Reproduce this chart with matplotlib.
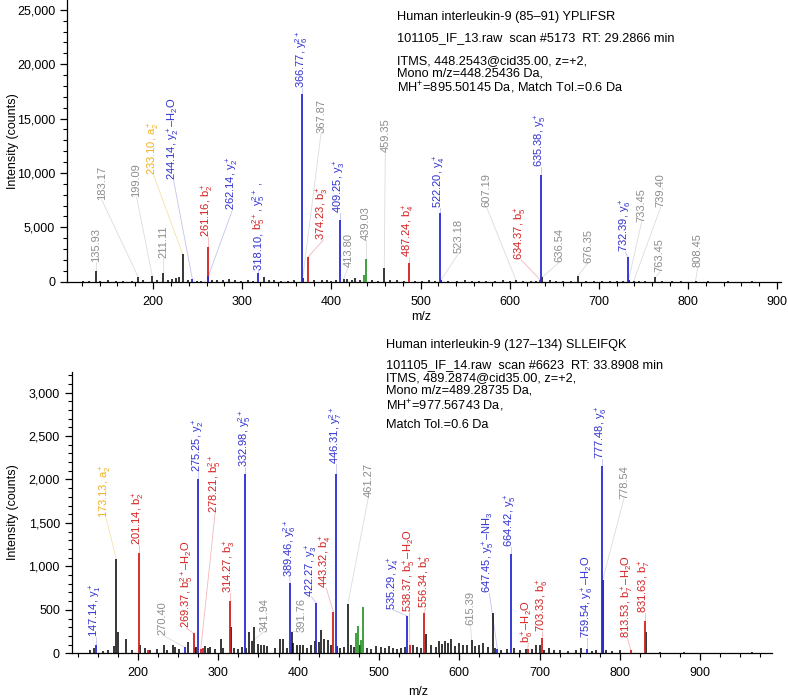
import matplotlib
matplotlib.use("Agg")
import matplotlib.pyplot as plt
from matplotlib.ticker import MultipleLocator, FuncFormatter

plt.rcParams['font.family'] = ['Liberation Sans', 'DejaVu Sans']
plt.rcParams['mathtext.fontset'] = 'custom'
plt.rcParams['mathtext.rm'] = 'Liberation Sans'
plt.rcParams['mathtext.it'] = 'Liberation Sans'
plt.rcParams['mathtext.default'] = 'regular'

# ---------------------------------------------------------------------------
# data: panel A (YPLIFSR)
# ---------------------------------------------------------------------------
top_black_mz = [121.0, 128.5, 135.93, 141.0, 149.0, 158.0, 166.0, 176.0, 183.17, 189.0,
                199.09, 205.0, 211.11, 216.5, 221.0, 225.5, 229.5, 233.10, 239.0, 249.0,
                254.0, 266.0, 272.0, 279.0, 285.0, 292.0, 299.0, 306.0, 312.0, 325.0,
                330.0, 336.0, 344.0, 351.0, 358.0, 367.87, 381.0, 389.0, 395.0, 400.0,
                405.0, 413.80, 418.0, 423.0, 427.0, 432.0, 446.0, 452.0, 459.35, 466.0,
                474.0, 481.0, 494.0, 502.0, 510.0, 516.0, 523.18, 531.0, 541.0, 550.0,
                558.0, 566.0, 574.0, 583.0, 592.0, 600.0, 607.19, 615.0, 624.0, 630.0,
                636.54, 645.0, 652.0, 660.0, 669.0, 676.35, 686.0, 695.0, 704.0, 712.0,
                720.0, 727.0, 733.45, 739.40, 745.0, 752.0, 763.45, 771.0, 782.0, 792.0,
                808.45, 823.0, 845.0, 872.0]
top_black_h = [60, 90, 1010, 80, 120, 70, 110, 90, 460, 150,
               560, 120, 830, 200, 260, 380, 420, 2560, 150, 110,
               90, 130, 160, 140, 220, 120, 90, 150, 100, 450,
               170, 120, 90, 110, 140, 300, 180, 130, 160, 110,
               200, 260, 220, 180, 300, 150, 140, 110, 1290, 130,
               120, 100, 110, 90, 150, 100, 180, 90, 80, 130,
               90, 110, 100, 80, 140, 90, 120, 80, 100, 70,
               420, 120, 80, 100, 70, 520, 80, 90, 60, 70,
               80, 90, 180, 110, 80, 90, 400, 60, 70, 50,
               60, 40, 40, 30]

top_ion_mz = [244.14, 261.16, 262.14, 318.10, 366.77, 374.23, 409.25, 487.24,
              522.20, 634.37, 635.38, 732.39]
top_ion_h = [220, 3230, 520, 770, 17250, 2300, 5680, 1720,
             6300, 150, 9820, 2300]
top_ion_kind = ['y', 'b', 'y', 'y', 'y', 'b', 'y', 'b',
                'y', 'b', 'y', 'y']

top_green_mz = [436.8, 439.03]
top_green_h = [600, 2060]

# label text, colour key, peak m/z, label anchor (m/z, counts)
top_labels = [
    ("135.93", 'g', 135.93, 135.93, 1840),
    ("183.17", 'g', 183.17, 142.5, 7525),
    ("199.09", 'g', 199.09, 181.5, 7800),
    ("211.11", 'g', 211.11, 211.11, 2180),
    ("233.10, $a_2^+$", 'a', 233.10, 200.5, 9830),
    ("244.14, $y_2^+$–$H_2O$", 'y', 244.14, 223.0, 9370),
    ("261.16, $b_2^+$", 'b', 261.16, 261.16, 4145),
    ("262.14, $y_2^+$", 'y', 262.14, 289.0, 6600),
    ([("318.10, ", 'y'), ("$b_5^{2+}$", 'b'), (", $y_5^{2+}$ ,", 'y')], None, 318.10, 318.5, 1080),
    ("366.77, $y_6^{2+}$", 'y', 366.77, 366.77, 17840),
    ("367.87", 'g', 367.87, 388.5, 13700),
    ("374.23, $b_3^+$", 'b', 374.23, 391.0, 3840),
    ("409.25, $y_3^+$", 'y', 409.25, 409.25, 6330),
    ("413.80", 'g', 413.80, 419.0, 1350),
    ("439.03", 'g', 439.03, 439.03, 3840),
    ("459.35", 'g', 459.35, 460.5, 11945),
    ("487.24, $b_4^+$", 'b', 487.24, 487.24, 2275),
    ("522.20, $y_4^+$", 'y', 522.20, 522.20, 6790),
    ("523.18", 'g', 523.18, 543.0, 2640),
    ("607.19", 'g', 607.19, 574.0, 6880),
    ("634.37, $b_5^+$", 'b', 634.37, 613.0, 2000),
    ("635.38, $y_5^+$", 'y', 635.38, 635.38, 10565),
    ("636.54", 'g', 636.54, 656.0, 1815),
    ("676.35", 'g', 676.35, 688.0, 1720),
    ("732.39, $y_6^+$", 'y', 732.39, 730.0, 2735),
    ("733.45", 'g', 733.45, 748.0, 5500),
    ("739.40", 'g', 739.40, 769.5, 6880),
    ("763.45", 'g', 763.45, 768.5, 895),
    ("808.45", 'g', 808.45, 811.0, 1350),
]

top_title = "Human interleukin-9 (85–91) YPLIFSR"
top_scan = "101105_IF_13.raw  scan #5173  RT: 29.2866 min"
top_info = ["ITMS, 448.2543@cid35.00, z=+2,",
            "Mono m/z=448.25436 Da,",
            "$MH^{+}$=895.50145 Da, Match Tol.=0.6 Da"]

# ---------------------------------------------------------------------------
# data: panel B (SLLEIFQK)
# ---------------------------------------------------------------------------
bot_black_mz = [140.0, 145.0, 156.0, 163.0, 170.0, 173.13, 175.5, 185.0, 192.0, 203.0,
                209.0, 215.0, 224.0, 232.0, 236.0, 243.0, 246.0, 251.0, 262.0, 270.40,
                272.0, 284.0, 287.0, 290.0, 296.0, 303.0, 306.0, 316.3, 320.0, 325.0,
                329.0, 335.0, 338.0, 341.94, 344.0, 350.0, 353.0, 357.0, 361.0, 370.0,
                377.0, 380.0, 385.0, 391.76, 393.0, 398.0, 402.0, 405.0, 410.0, 415.0,
                420.0, 425.0, 428.0, 432.0, 437.0, 440.0, 448.0, 452.0, 456.0, 461.27,
                465.0, 469.0, 476.0, 485.0, 490.0, 496.0, 503.0, 507.0, 512.0, 518.0,
                523.0, 528.0, 532.0, 542.0, 547.0, 552.0, 558.3, 565.0, 571.0, 575.0,
                578.0, 582.0, 586.0, 590.0, 595.0, 600.0, 605.0, 610.0, 615.39, 620.0,
                625.0, 630.0, 636.0, 641.5, 645.0, 652.0, 660.0, 668.0, 676.0, 683.0,
                690.0, 695.0, 700.0, 705.0, 712.0, 718.0, 725.0, 735.0, 745.0, 752.0,
                765.0, 770.0, 778.54, 783.0, 790.0, 800.0, 832.6, 850.0, 880.0, 965.0]
bot_black_h = [40, 60, 30, 40, 80, 1080, 250, 170, 40, 100,
               60, 40, 50, 90, 40, 100, 70, 50, 130, 60,
               70, 80, 60, 70, 50, 170, 60, 300, 60, 50,
               70, 60, 250, 140, 300, 110, 90, 100, 80, 60,
               170, 170, 60, 250, 120, 90, 100, 100, 60, 90,
               140, 130, 270, 160, 150, 100, 80, 60, 70, 566,
               100, 70, 90, 60, 50, 80, 70, 60, 80, 60,
               50, 60, 70, 90, 70, 60, 220, 100, 70, 140,
               110, 140, 120, 170, 80, 120, 90, 100, 153, 80,
               100, 120, 70, 460, 60, 40, 50, 60, 40, 50,
               50, 100, 100, 40, 60, 40, 40, 30, 40, 60,
               30, 40, 842, 40, 30, 40, 250, 20, 20, 20]

bot_ion_mz = [147.14, 201.14, 212.0, 258.2, 269.37, 275.25, 278.21, 281.0, 314.27, 332.98,
              389.46, 422.27, 443.32, 446.31, 535.29, 538.37, 556.34, 647.45, 664.42,
              685.3, 703.33, 759.54, 777.48, 813.53, 831.63]
bot_ion_h = [100, 1150, 40, 70, 230, 2010, 50, 60, 605, 2060,
             804, 575, 478, 2060, 429, 100, 466, 50, 1141,
             50, 172, 46, 2152, 40, 375]
bot_ion_kind = ['y', 'b', 'b', 'y', 'b', 'y', 'b', 'b', 'b', 'y',
                'y', 'y', 'b', 'y', 'y', 'b', 'b', 'y', 'y',
                'b', 'b', 'y', 'y', 'b', 'b']

bot_green_mz = [471.5, 473.5, 477.5, 480.5]
bot_green_h = [230, 314, 150, 528]

bot_labels = [
    ("147.14, $y_1^+$", 'y', 147.14, 147.14, 190),
    ("173.13, $a_2^+$", 'a', 173.13, 160.5, 1551),
    ("201.14, $b_2^+$", 'b', 201.14, 201.14, 1244),
    ("270.40", 'g', 258.2, 230.5, 210),
    ("269.37, $b_5^{2+}$–$H_2O$", 'b', 269.37, 260.5, 287),
    ("275.25, $y_2^+$", 'y', 275.25, 275.25, 2087),
    ("278.21, $b_5^{2+}$", 'b', 278.21, 296.0, 1609),
    ("314.27, $b_3^+$", 'b', 314.27, 314.27, 690),
    ("332.98, $y_5^{2+}$", 'y', 332.98, 332.98, 2144),
    ("341.94", 'g', 341.94, 357.0, 248),
    ("389.46, $y_6^{2+}$", 'y', 389.46, 389.0, 880),
    ("391.76", 'g', 391.76, 404.0, 248),
    ("422.27, $y_3^+$", 'y', 422.27, 416.0, 650),
    ("443.32, $b_4^+$", 'b', 443.32, 434.5, 747),
    ("446.31, $y_7^{2+}$", 'y', 446.31, 446.31, 2183),
    ("461.27", 'g', 461.27, 487.0, 1800),
    ("535.29, $y_4^+$", 'y', 535.29, 518.0, 497),
    ("538.37, $b_5^+$–$H_2O$", 'b', 538.37, 538.0, 478),
    ("556.34, $b_5^+$", 'b', 556.34, 558.0, 517),
    ("615.39", 'g', 615.39, 614.0, 325),
    ("647.45, $y_5^+$–$NH_3$", 'y', 647.45, 637.5, 690),
    ("664.42, $y_5^+$", 'y', 664.42, 664.42, 1225),
    ("$b_6^+$–$H_2O$", 'b', 685.3, 686.0, 115),
    ("703.33, $b_6^+$", 'b', 703.33, 704.0, 248),
    ("759.54, $y_6^+$–$H_2O$", 'y', 759.54, 759.54, 172),
    ("777.48, $y_6^+$", 'y', 777.48, 777.48, 2240),
    ("778.54", 'g', 778.54, 805.0, 1781),
    ("813.53, $b_7^+$–$H_2O$", 'b', 813.53, 809.5, 172),
    ("831.63, $b_7^+$", 'b', 831.63, 831.63, 460),
]

bot_title = "Human interleukin-9 (127–134) SLLEIFQK"
bot_scan = "101105_IF_14.raw  scan #6623  RT: 33.8908 min"
bot_info = ["ITMS, 489.2874@cid35.00, z=+2,",
            "Mono m/z=489.28735 Da,",
            "$MH^{+}$=977.56743 Da,"]
bot_tol = "Match Tol.=0.6 Da"

# ---------------------------------------------------------------------------
PEAK = {'b': '#d41f1f', 'y': '#2a2ad4', 'green': '#1f8f1f', 'black': 'black'}
TXT = {'b': '#d41f1f', 'y': '#3030d0', 'a': '#f0b020', 'g': '#8c8c8c'}
LINE = {'b': '#f2b8b8', 'y': '#c4c4f0', 'a': '#f6e2a6', 'g': '#dcdcdc'}

W, H = 788, 700
fig = plt.figure(figsize=(W / 100, H / 100), dpi=100)


def px_axes(l, t, r, b):
    return fig.add_axes([l / W, 1 - b / H, (r - l) / W, (b - t) / H])


def ftext(x, y, s, **kw):
    kw.setdefault("fontsize", 9.2)
    return fig.text(x / W, 1 - y / H, s, **kw)


def style(ax, xlim, ylim, xmaj, xmin, ymaj, ymin):
    ax.set_xlim(*xlim)
    ax.set_ylim(*ylim)
    for s in ("top", "right"):
        ax.spines[s].set_visible(False)
    for s in ("left", "bottom"):
        ax.spines[s].set_linewidth(0.9)
    ax.xaxis.set_major_locator(MultipleLocator(xmaj))
    ax.xaxis.set_minor_locator(MultipleLocator(xmin))
    ax.yaxis.set_major_locator(MultipleLocator(ymaj))
    ax.yaxis.set_minor_locator(MultipleLocator(ymin))
    ax.yaxis.set_major_formatter(FuncFormatter(lambda v, p: f"{v:,.0f}"))
    ax.tick_params(which="major", direction="out", length=5, width=0.9, labelsize=9)
    ax.tick_params(axis="x", which="major", pad=5)
    ax.tick_params(which="minor", direction="out", length=3, width=0.8)
    ax.patch.set_alpha(0)


def draw_peaks(ax, black_mz, black_h, ion_mz, ion_h, ion_kind, green_mz, green_h):
    ax.vlines(black_mz, 0, black_h, color=PEAK['black'], lw=1.1, zorder=2)
    ax.vlines(green_mz, 0, green_h, color=PEAK['green'], lw=1.2, zorder=3)
    for m, h, k in zip(ion_mz, ion_h, ion_kind):
        ax.vlines(m, 0, h, color=PEAK[k], lw=1.3, zorder=3)


def draw_labels(ax, labels, lookup, fs=8):
    for text, key, pk, lx, ly in labels:
        ph = lookup[pk]
        ck = key if key else 'y'
        ax.plot([lx, pk], [ly, ph], color=LINE[ck], lw=0.6, zorder=1)
        if isinstance(text, list):
            t = None
            for s, c in text:
                if t is None:
                    t = ax.text(lx, ly, s, color=TXT[c], rotation=90, ha="center",
                                va="bottom", fontsize=fs, zorder=4)
                else:
                    t = ax.annotate(s, xy=(0.5, 1), xycoords=t, color=TXT[c],
                                    rotation=90, ha="center", va="bottom",
                                    fontsize=fs, zorder=4)
        else:
            ax.text(lx, ly, text, color=TXT[key], rotation=90, ha="center",
                    va="bottom", fontsize=fs, zorder=4)


# panel A
ax1 = px_axes(67, 0, 780.7, 281.7)
style(ax1, (103.5, 904), (0, 25900), 100, 20, 5000, 1000)
draw_peaks(ax1, top_black_mz, top_black_h, top_ion_mz, top_ion_h, top_ion_kind,
           top_green_mz, top_green_h)
look1 = dict(zip(top_black_mz, top_black_h))
look1.update(zip(top_ion_mz, top_ion_h))
look1.update(zip(top_green_mz, top_green_h))
draw_labels(ax1, top_labels, look1)

ftext(397, 17, top_title, va="center")
ftext(397, 38, top_scan, va="center")
ftext(397, 55, "\n".join(top_info), va="top", linespacing=1.05)

# panel B
ax2 = px_axes(71.7, 371.7, 771.7, 653.3)
style(ax2, (117.5, 989), (0, 3240), 100, 25, 500, 100)
draw_peaks(ax2, bot_black_mz, bot_black_h, bot_ion_mz, bot_ion_h, bot_ion_kind,
           bot_green_mz, bot_green_h)
look2 = dict(zip(bot_black_mz, bot_black_h))
look2.update(zip(bot_ion_mz, bot_ion_h))
look2.update(zip(bot_green_mz, bot_green_h))
draw_labels(ax2, bot_labels, look2)

ftext(386, 345, bot_title, va="center")
ftext(386, 365, bot_scan, va="center")
ftext(386, 372.5, "\n".join(bot_info), va="top", linespacing=1.05)
ftext(386, 425, bot_tol, va="center")

# axis titles
ftext(421, 317, "m/z", fontsize=9, ha="center", va="center")
ftext(418, 692, "m/z", fontsize=9, ha="center", va="center")
ftext(13, 141, "Intensity (counts)", fontsize=9, rotation=90, ha="center", va="center")
ftext(13, 512, "Intensity (counts)", fontsize=9, rotation=90, ha="center", va="center")

fig.savefig("out.png", dpi=100)
